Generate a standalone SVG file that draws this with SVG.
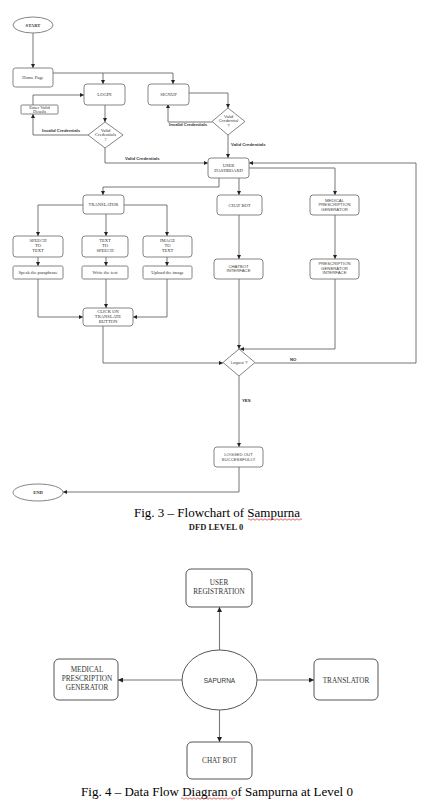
<svg xmlns="http://www.w3.org/2000/svg" width="424" height="807" viewBox="0 0 424 807">
<defs>
<marker id="ah" viewBox="0 0 6 6" refX="6" refY="3" markerWidth="4" markerHeight="4" orient="auto" markerUnits="userSpaceOnUse">
<path d="M0,0 L6,3 L0,6 z" fill="#222"/>
</marker>
<marker id="ah2" viewBox="0 0 6 6" refX="6" refY="3" markerWidth="5" markerHeight="5" orient="auto" markerUnits="userSpaceOnUse">
<path d="M0,0 L6,3 L0,6 z" fill="#222"/>
</marker>
</defs>
<style>
.box{fill:#fff;stroke:#777;stroke-width:0.9}
.dbox{fill:#fff;stroke:#555;stroke-width:1}
.ln{fill:none;stroke:#666;stroke-width:0.9;marker-end:url(#ah)}
.dl{fill:none;stroke:#777;stroke-width:1.1;marker-end:url(#ah2)}
.s{font-family:"Liberation Serif","Times New Roman",serif;font-size:4.6px;fill:#333;text-anchor:middle}
.a{font-family:"Liberation Sans",Arial,sans-serif;font-size:4.3px;fill:#444;text-anchor:middle}
.lb{font-family:"Liberation Sans",Arial,sans-serif;font-size:4.3px;font-weight:bold;fill:#333}
.d{font-family:"Liberation Serif","Times New Roman",serif;font-size:7.2px;fill:#333;text-anchor:middle}
.cap{font-family:"Liberation Serif","Times New Roman",serif;font-size:13px;fill:#000;text-anchor:middle}
.sub{font-family:"Liberation Serif","Times New Roman",serif;font-size:8.5px;font-weight:bold;fill:#222;text-anchor:middle}
.sa{font-family:"Liberation Sans",Arial,sans-serif;font-size:6.5px;fill:#333;text-anchor:middle}
</style>
<rect width="424" height="807" fill="#fff"/>

<g id="connectors">
<path class="ln" d="M33,33 V68"/>
<path class="ln" d="M53,73 H173 V84"/>
<path class="ln" d="M103,73 V84"/>
<path class="ln" d="M105,105 V122"/>
<path class="ln" d="M88,135 H33 V114"/>
<path class="ln" d="M33,105 V95 H84"/>
<path class="ln" d="M105,148 V163 H208"/>
<path class="ln" d="M188,93 H228 V108"/>
<path class="ln" d="M212,122 H168 V104"/>
<path class="ln" d="M228,135 V158"/>
<path class="ln" d="M219,178 V187 H103 V195"/>
<path class="ln" d="M239,178 V195"/>
<path class="ln" d="M249,168 H335 V195"/>
<path class="ln" d="M83,205 H38 V236"/>
<path class="ln" d="M106,214 V236"/>
<path class="ln" d="M124,205 H167 V236"/>
<path class="ln" d="M38,257 V266"/>
<path class="ln" d="M106,257 V266"/>
<path class="ln" d="M167,257 V266"/>
<path class="ln" d="M38,279 V317 H83"/>
<path class="ln" d="M106,279 V308"/>
<path class="ln" d="M167,279 V317 H133"/>
<path class="ln" d="M103,326 V363 H223"/>
<path class="ln" d="M239,215 V259"/>
<path class="ln" d="M335,215 V259"/>
<path class="ln" d="M239,279 V349"/>
<path class="ln" d="M335,279 V349 H240"/>
<path class="ln" d="M255,363 H416 V163 H249"/>
<path class="ln" d="M239,376 V447"/>
<path class="ln" d="M239,467 V492 H63"/>
<text class="lb" x="42" y="132">Invalid Credentials</text>
<text class="lb" x="125" y="160">Valid Credentials</text>
<text class="lb" x="169" y="126">Invalid Credentials</text>
<text class="lb" x="231" y="146">Valid Credentials</text>
<text class="lb" x="290" y="361">NO</text>
<text class="lb" x="242" y="402">YES</text>
<path class="dl" d="M219.5,650 V607"/>
<path class="dl" d="M182,680 H118"/>
<path class="dl" d="M257,680 H314"/>
<path class="dl" d="M219.5,710 V742"/>
</g>

<g id="start"><ellipse cx="33" cy="25" rx="20" ry="8" class="box"/><text class="s" x="33" y="26.6" font-weight="bold">START</text></g>
<g id="home"><rect x="13" y="68" width="40" height="19" rx="2.5" class="box"/><text class="s" x="33" y="79">Home Page</text></g>
<g id="login"><rect x="84" y="84" width="41" height="21" rx="3" class="box"/><text class="s" x="104.5" y="96">LOGIN</text></g>
<g id="signup"><rect x="148" y="84" width="41" height="21" rx="3" class="box"/><text class="s" x="168.5" y="96">SIGNUP</text></g>
<g id="enter"><rect x="21" y="105" width="37" height="9" rx="1" class="box"/><text class="s" x="39.5" y="109">Enter Valid</text><text class="s" x="39.5" y="113.3">Details</text></g>
<g id="valid1"><path d="M105,122 L123,135 L105,148 L88,135 Z" class="box"/><text class="s" x="105.5" y="131.5">Valid</text><text class="s" x="105.5" y="136">Credentials</text><text class="s" x="105.5" y="140.5">?</text></g>
<g id="valid2"><path d="M228,108 L245,121.5 L228,135 L212,121.5 Z" class="box"/><text class="a" x="228.5" y="117.5">Valid</text><text class="a" x="228.5" y="122">Credential</text><text class="a" x="228.5" y="126.5">?</text></g>
<g id="dashboard"><rect x="208" y="158" width="41" height="20" rx="3" class="box"/><text class="s" x="228.5" y="167">USER</text><text class="s" x="228.5" y="172">DASHBOARD</text></g>
<g id="translator"><rect x="83" y="195" width="41" height="19" rx="3" class="box"/><text class="s" x="103.5" y="206">TRANSLATOR</text></g>
<g id="chatbot"><rect x="217" y="195" width="45" height="20" rx="3" class="box"/><text class="s" x="239.5" y="206.5">CHAT BOT</text></g>
<g id="medical"><rect x="310" y="195" width="49" height="20" rx="3" class="box"/><text class="a" x="334.5" y="201.5">MEDICAL</text><text class="a" x="334.5" y="206.2">PRESCRIPTION</text><text class="a" x="334.5" y="210.9">GENERATOR</text></g>
<g id="stt"><rect x="13" y="236" width="50" height="21" rx="3" class="box"/><text class="s" x="38" y="241.5">SPEECH</text><text class="s" x="38" y="246.5">TO</text><text class="s" x="38" y="251.5">TEXT</text></g>
<g id="tts"><rect x="82" y="236" width="46" height="21" rx="3" class="box"/><text class="s" x="105" y="241.5">TEXT</text><text class="s" x="105" y="246.5">TO</text><text class="s" x="105" y="251.5">SPEECH</text></g>
<g id="itt"><rect x="143" y="236" width="49" height="21" rx="3" class="box"/><text class="s" x="167.5" y="241.5">IMAGE</text><text class="s" x="167.5" y="246.5">TO</text><text class="s" x="167.5" y="251.5">TEXT</text></g>
<g id="speak"><rect x="13" y="266" width="50" height="13" rx="1.5" class="box"/><text class="s" x="38" y="274">Speak the paraphrase</text></g>
<g id="write"><rect x="82" y="266" width="46" height="13" rx="1.5" class="box"/><text class="s" x="105" y="274">Write the text</text></g>
<g id="upload"><rect x="143" y="266" width="49" height="13" rx="1.5" class="box"/><text class="s" x="167.5" y="274">Upload the image</text></g>
<g id="click"><rect x="83" y="308" width="50" height="18" rx="3" class="box"/><text class="s" x="108" y="313">CLICK ON</text><text class="s" x="108" y="318">TRANSLATE</text><text class="s" x="108" y="323">BUTTON</text></g>
<g id="chatif"><rect x="214" y="259" width="49" height="20" rx="3" class="box"/><text class="a" x="238.5" y="267.5">CHATBOT</text><text class="a" x="238.5" y="272.3">INTERFACE</text></g>
<g id="presif"><rect x="310" y="259" width="49" height="20" rx="3" class="box"/><text class="a" x="334.5" y="265">PRESCRIPTION</text><text class="a" x="334.5" y="269.7">GENERATOR</text><text class="a" x="334.5" y="274.4">INTERFACE</text></g>
<g id="logout"><path d="M239,349 L255,362.5 L239,376 L223,362.5 Z" class="box"/><text class="a" x="239" y="364">Logout ?</text></g>
<g id="loggedout"><rect x="214" y="447" width="49" height="20" rx="3" class="box"/><text class="a" x="238.5" y="455.5">LOGGED OUT</text><text class="a" x="238.5" y="460.5">SUCCESSFULLY</text></g>
<g id="end"><ellipse cx="38" cy="492.5" rx="25" ry="8.5" class="box"/><text class="s" x="38" y="494.2" font-weight="bold">END</text></g>

<g id="captions">
<text class="cap" x="217" y="517">Fig. 3 – Flowchart of Sampurna</text>
<path d="M248,519.5 q1,-1.5 2,0 t2,0 t2,0 t2,0 t2,0 t2,0 t2,0 t2,0 t2,0 t2,0 t2,0 t2,0 t2,0 t2,0 t2,0 t2,0 t2,0 t2,0 t2,0 t2,0 t2,0 t2,0 t2,0 t2,0 t2,0 t2,0 t2,0" fill="none" stroke="#d22" stroke-width="0.7"/>
<text class="sub" x="216" y="530">DFD LEVEL 0</text>
<text class="cap" x="217" y="796">Fig. 4 – Data Flow Diagram of Sampurna at Level 0</text>
<path d="M181,798.5 q1,-1.5 2,0 t2,0 t2,0 t2,0 t2,0 t2,0 t2,0 t2,0 t2,0 t2,0 t2,0 t2,0 t2,0 t2,0 t2,0 t2,0 t2,0 t2,0 t2,0 t2,0 t2,0 t2,0 t2,0 t2,0 t2,0 t2,0 t2,0" fill="none" stroke="#d22" stroke-width="0.7"/>
</g>

<g id="dfd-user"><rect x="186" y="569" width="66" height="38" rx="5" class="dbox"/><text class="d" x="219" y="585">USER</text><text class="d" x="219" y="594">REGISTRATION</text></g>
<g id="dfd-sapurna"><ellipse cx="219.5" cy="680" rx="37.5" ry="30" class="dbox"/><text class="sa" x="219.5" y="682.5">SAPURNA</text></g>
<g id="dfd-medical"><rect x="54" y="659" width="64" height="41" rx="5" class="dbox"/><text class="d" x="87" y="672">MEDICAL</text><text class="d" x="87" y="681">PRESCRIPTION</text><text class="d" x="87" y="690">GENERATOR</text></g>
<g id="dfd-translator"><rect x="314" y="659" width="64" height="41" rx="5" class="dbox"/><text class="d" x="346" y="682.5">TRANSLATOR</text></g>
<g id="dfd-chatbot"><rect x="187" y="742" width="65" height="37" rx="5" class="dbox"/><text class="d" x="219.5" y="763">CHAT BOT</text></g>
</svg>
